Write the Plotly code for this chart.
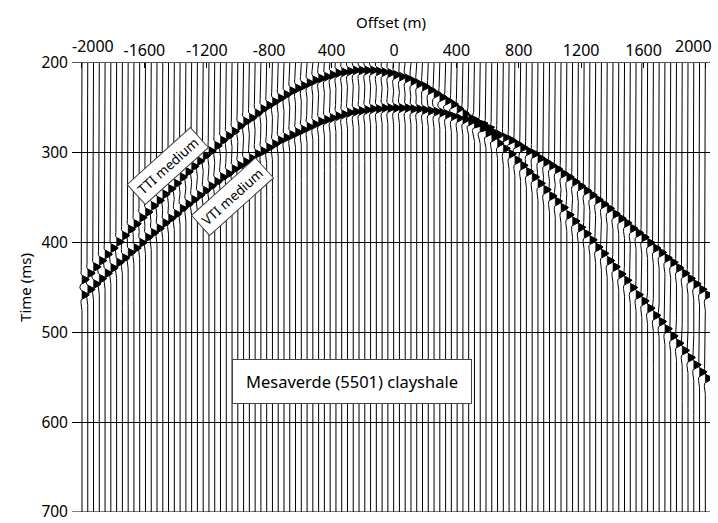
import numpy as np
import plotly.graph_objects as go

# Receiver offsets (m), one trace every 37 m
offsets = list(range(-2000, 1997, 37))

# Picked arrival times (ms) of the two events, one value per trace
tti_times = [441, 434, 427, 420, 413, 406, 399, 392, 385, 379, 372, 366, 359, 353, 346, 340,
             334, 327, 321, 315, 309, 303, 298, 292, 286, 281, 276, 270, 265, 261, 256, 251,
             247, 243, 239, 235, 231, 228, 225, 222, 219, 217, 215, 213, 211, 210, 209, 208,
             208, 208, 208, 209, 210, 211, 213, 215, 217, 220, 223, 226, 230, 234, 238, 242,
             246, 251, 256, 261, 266, 272, 278, 283, 289, 295, 301, 308, 314, 321, 327, 334,
             341, 348, 354, 361, 369, 376, 383, 390, 397, 405, 412, 420, 427, 435, 442, 450,
             458, 465, 473, 481, 488, 496, 504, 512, 520, 528, 536, 544, 551]
vti_times = [458, 452, 446, 440, 434, 428, 422, 417, 411, 406, 400, 394, 389, 384, 378, 373,
             368, 362, 357, 352, 347, 342, 337, 332, 327, 323, 318, 314, 310, 306, 301, 298,
             294, 290, 286, 283, 280, 277, 274, 271, 268, 265, 263, 261, 259, 257, 255, 254,
             253, 252, 251, 251, 250, 250, 250, 250, 250, 251, 251, 252, 253, 254, 255, 257,
             259, 261, 263, 265, 268, 271, 274, 277, 280, 283, 286, 290, 294, 298, 301, 306,
             310, 314, 318, 323, 327, 332, 337, 342, 347, 352, 357, 362, 368, 373, 378, 384,
             389, 394, 400, 406, 411, 417, 422, 428, 434, 440, 446, 452, 458]

x_tickvals = [-2000, -1600, -1200, -800, -400, 0, 400, 800, 1200, 1600, 2000]
x_ticktext = ["-2000", "-1600", "-1200", "-800", "400", "0", "400", "800", "1200", "1600", "2000"]
y_tickvals = [200, 300, 400, 500, 600, 700]

FONT = "Noto Sans"

# time samples of every trace (ms)
t = np.arange(200.0, 700.01, 0.5)
FREQ = 0.05   # wavelet peak frequency, cycles per ms
AMP = 46.0    # wiggle excursion in offset units
SIDE = 0.35   # damping of the negative side lobes


def pulse(tau):
    a = (np.pi * FREQ * tau) ** 2
    w = (1.0 - 2.0 * a) * np.exp(-a)
    return np.where(w < 0, SIDE * w, w)


half = 0.7071 / (np.pi * FREQ)  # half width of the positive main lobe

wx, wy = [], []   # wiggle lines
fx, fy = [], []   # filled positive lobes
for off, t1, t2 in zip(offsets, tti_times, vti_times):
    w = pulse(t - t1) + pulse(t - t2)
    wx.extend((off + AMP * w).tolist())
    wx.append(None)
    wy.extend(t.tolist())
    wy.append(None)
    for te in (t1, t2):
        tl = np.linspace(te - half, te + half, 17)
        wl = np.clip(pulse(tl - t1) + pulse(tl - t2), 0, None)
        fx.extend((off + AMP * wl).tolist() + [off, off, None])
        fy.extend(tl.tolist() + [tl[-1], tl[0], None])

fig = go.Figure()
fig.add_trace(go.Scatter(x=fx, y=fy, mode="lines", fill="toself", fillcolor="black",
                         line=dict(color="black", width=0.5),
                         hoverinfo="skip", showlegend=False))
fig.add_trace(go.Scatter(x=wx, y=wy, mode="lines",
                         line=dict(color="black", width=1),
                         hoverinfo="skip", showlegend=False))

# end labels of the offset axis sit just inside the frame
fig.add_annotation(x=x_tickvals[0], y=1, xref="x", yref="paper", yanchor="bottom",
                   xshift=11, yshift=4, text=x_ticktext[0], showarrow=False,
                   font=dict(family=FONT, size=16, color="black"))
fig.add_annotation(x=x_tickvals[-1], y=1, xref="x", yref="paper", yanchor="bottom",
                   xshift=-12, yshift=4, text=x_ticktext[-1], showarrow=False,
                   font=dict(family=FONT, size=16, color="black"))
shown_ticktext = [""] + x_ticktext[1:-1] + [""]

box = dict(bgcolor="white", bordercolor="#444", borderwidth=1,
           showarrow=False, xref="x", yref="y")
fig.add_annotation(x=-269, y=555, text="Mesaverde (5501) clayshale",
                   font=dict(family=FONT, size=16.5, color="black"),
                   width=228, height=33, borderpad=5, **box)
fig.add_annotation(x=-1449, y=315, text="TTI medium", textangle=-42,
                   font=dict(family=FONT, size=13.5, color="black"),
                   borderpad=4, **box)
fig.add_annotation(x=-1038, y=349, text="VTI medium", textangle=-42,
                   font=dict(family=FONT, size=13.5, color="black"),
                   borderpad=4, **box)

# bottom time line closes the section
fig.add_shape(type="line", xref="paper", x0=0, x1=1, yref="y",
              y0=y_tickvals[-1], y1=y_tickvals[-1], line=dict(color="black", width=1))

fig.update_layout(
    width=718, height=523,
    margin=dict(l=72, r=8, t=63, b=11),
    paper_bgcolor="white", plot_bgcolor="white",
    font=dict(family=FONT, size=16, color="black"),
    xaxis=dict(side="top", range=[-2064, 2026], tickvals=x_tickvals, ticktext=shown_ticktext,
               showgrid=False, zeroline=False, showline=True, linecolor="#555", linewidth=1,
               ticks="inside", ticklen=5, tickcolor="black", automargin=False,
               ticklabeloverflow="allow", tickfont=dict(size=16),
               title=dict(text="Offset (m)", font=dict(size=15), standoff=6)),
    yaxis=dict(range=[700, 200], tickvals=y_tickvals, showgrid=True, gridcolor="black",
               gridwidth=1, zeroline=False, showline=False, ticks="", automargin=False,
               ticklabeloverflow="allow",
               ticklabelstandoff=3, tickfont=dict(size=15.5),
               title=dict(text="Time (ms)", font=dict(size=15), standoff=6)),
)

fig.write_html("out.html")
